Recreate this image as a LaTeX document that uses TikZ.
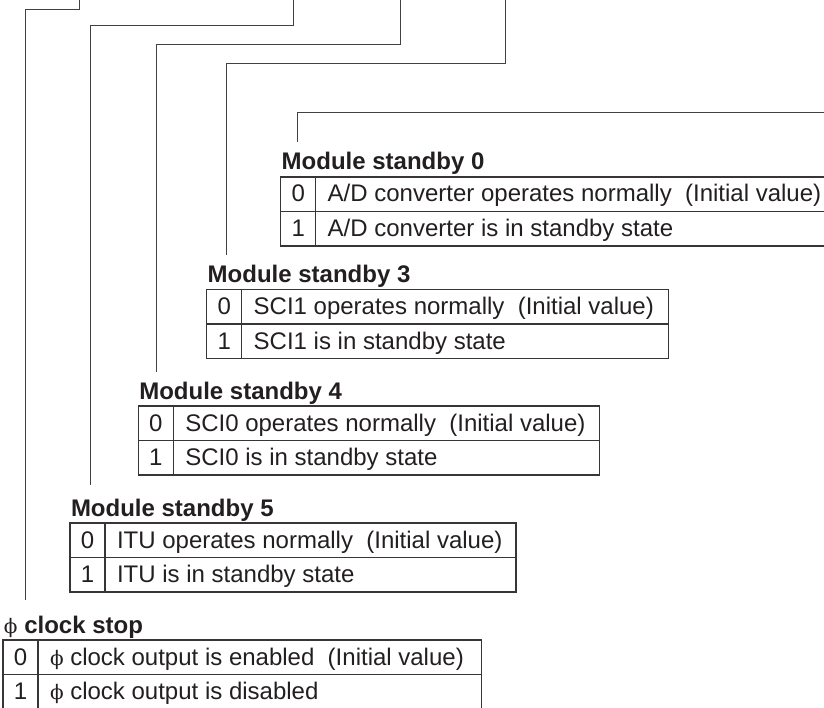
\documentclass[tikz,border=0pt]{standalone}
\usepackage{fontspec}
\setmainfont{Liberation Sans}
\newfontfamily\phifont{DejaVu Serif}
\definecolor{ink}{HTML}{231F20}
\newcommand{\ph}{{\mdseries\phifont\fontsize{20}{24}\selectfont ϕ}}
\newcommand{\regtab}[7]{% #1 name, #2 left, #3 top, #4 right, #5 label, #6 row-0 text, #7 row-1 text
  \node[lbl] (#1-l) at ({#2+1},{#3-7}) {#5};
  \draw[tab] (#2,#3) rectangle (#4,{#3+69});
  \draw[tab] (#2,{#3+34.5}) -- (#4,{#3+34.5});
  \draw[tab] ({#2+35},#3) -- ({#2+35},{#3+69});
  \node[dig]  (#1-d0) at ({#2+17.5},{#3+25}) {0};
  \node[cell] (#1-t0) at ({#2+47},{#3+25}) {#6};
  \node[dig]  (#1-d1) at ({#2+17.5},{#3+59.5}) {1};
  \node[cell] (#1-t1) at ({#2+47},{#3+59.5}) {#7};
}
\begin{document}
\begin{tikzpicture}[x=1pt,y=-1pt,
  every node/.style={inner sep=0pt, outer sep=0pt, text=ink, font=\fontsize{24}{28}\selectfont},
  lbl/.style={anchor=base west, font=\fontsize{24}{28}\selectfont\bfseries},
  cell/.style={anchor=base west},
  dig/.style={anchor=base},
  tab/.style={draw=ink!90, line width=1.2pt},
  wire/.style={draw=ink!85, line width=1pt}]
\useasboundingbox (0,0) rectangle (824,708);

% register tables
\regtab{ms0}{280.7}{177}{832}{Module standby 0}{A/D converter operates normally\ \ (Initial value)}{A/D converter is in standby state}
\regtab{ms3}{206.7}{289.5}{668.3}{Module standby 3}{SCI1 operates normally\ \ (Initial value)}{SCI1 is in standby state}
\regtab{ms4}{138.3}{406}{599.3}{Module standby 4}{SCI0 operates normally\ \ (Initial value)}{SCI0 is in standby state}
\regtab{ms5}{70}{523}{516}{Module standby 5}{ITU operates normally\ \ (Initial value)}{ITU is in standby state}
\regtab{pck}{3}{640}{481.7}{\ph{} clock stop}{\ph{} clock output is enabled\ \ (Initial value)}{\ph{} clock output is disabled}

% bracket leads from the register bits
\coordinate (aTop) at (79.3,-3);   \coordinate (aC) at (25.5,9.5);  \coordinate (aEnd) at (25.5,600);
\coordinate (bTop) at (293.6,-3);  \coordinate (bC) at (90,25.5);   \coordinate (bEnd) at (90,485);
\coordinate (cTop) at (400.4,-3);  \coordinate (cC) at (156,44.5);  \coordinate (cEnd) at (156,372);
\coordinate (dTop) at (505.7,-3);  \coordinate (dC) at (226,63.5);  \coordinate (dEnd) at (226,255);
\coordinate (eTop) at (832,113);   \coordinate (eC) at (297.5,113); \coordinate (eEnd) at (297.5,141.7);

\draw[wire] (aTop) |- (aC) -- (aEnd);
\draw[wire] (bTop) |- (bC) -- (bEnd);
\draw[wire] (cTop) |- (cC) -- (cEnd);
\draw[wire] (dTop) |- (dC) -- (dEnd);
\draw[wire] (eTop) -- (eC) -- (eEnd);
\end{tikzpicture}
\end{document}
